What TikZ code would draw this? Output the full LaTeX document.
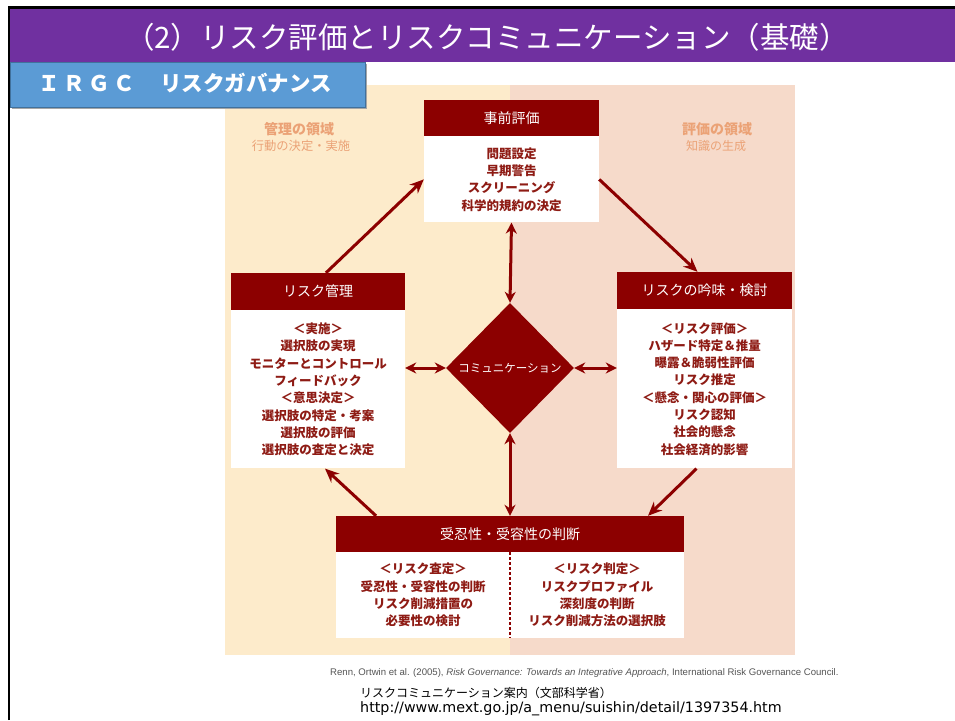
\documentclass[tikz,border=0pt]{standalone}
\usepackage{fontspec}
\setmainfont{Noto Sans CJK JP}
\newfontfamily\lib{Liberation Sans}
\newfontfamily\dvs{DejaVu Sans}
\usetikzlibrary{arrows.meta,shapes.geometric,calc}
\definecolor{ttlpurple}{HTML}{7030A0}
\definecolor{subblue}{HTML}{5B9BD5}
\definecolor{subborder}{HTML}{41719C}
\definecolor{darkred}{HTML}{8C0000}
\definecolor{bodyred}{HTML}{8E1B14}
\definecolor{beige}{HTML}{FDEBCB}
\definecolor{pinkbg}{HTML}{F6DACA}
\definecolor{lblorange}{HTML}{EBA276}
\definecolor{refgray}{HTML}{555555}
\tikzset{
  hdr/.style={fill=darkred, text=white, inner sep=0pt, font=\fontsize{14}{16}\selectfont},
  bodybox/.style={fill=white, inner sep=0pt, anchor=north},
  bodytxt/.style={text=bodyred, align=center, inner sep=0pt, font=\bfseries\fontsize{12.5}{17.3}\selectfont},
  arr/.style={draw=darkred, line width=3pt, -{Stealth[length=14pt,width=12pt]}},
  darr/.style={draw=darkred, line width=3pt, {Stealth[length=11pt,width=11pt]}-{Stealth[length=11pt,width=11pt]}},
  regionlbl/.style={text=lblorange, align=center, inner sep=0pt},
}
\begin{document}
\begin{tikzpicture}[x=1pt,y=-1pt]
\useasboundingbox (0,0) rectangle (955,720);
\fill[white] (0,0) rectangle (955,720);
% panels
\fill[beige] (225,85) rectangle (510,655);
\fill[pinkbg] (510,85) rectangle (795,655);
% frame
\draw[line width=2.5pt,black] (9,720) -- (9,7.5) -- (955,7.5);
% title band
\fill[ttlpurple] (10,9) rectangle (955,62);
\node[text=white, inner sep=0pt, font=\fontsize{29.5}{31}\selectfont] (title) at (487,37) {（2）リスク評価とリスクコミュニケーション（基礎）};
% subtitle box
\fill[black!35] (12,64) rectangle (367,109);
\draw[fill=subblue, draw=subborder, line width=0.8pt] (10,62) rectangle (365,107);
\node[text=white, inner sep=0pt, anchor=west, font=\bfseries\fontsize{21.5}{23}\selectfont] (sub) at (38,83) {Ｉ\,Ｒ\,Ｇ\,Ｃ\,　リスクガバナンス};
% region labels
\node[regionlbl, font=\bfseries\fontsize{14}{16}\selectfont] (ml) at (299,129) {管理の領域};
\node[regionlbl, font=\fontsize{12.3}{14}\selectfont] (ml2) at (301,146) {行動の決定・実施};
\node[regionlbl, font=\bfseries\fontsize{14}{16}\selectfont] (el) at (717,129) {評価の領域};
\node[regionlbl, font=\fontsize{12}{14}\selectfont] (el2) at (716,146) {知識の生成};
% top box
\node[hdr, minimum width=175pt, minimum height=36pt] (th) at (511.5,118) {事前評価};
\node[bodybox, minimum width=175pt, minimum height=86pt] (tb) at (th.south) {};
\node[bodytxt] (tt) at (tb.center) {問題設定\\早期警告\\スクリーニング\\科学的規約の決定};
% left box
\node[hdr, minimum width=174pt, minimum height=37pt] (lh) at (318,291.5) {リスク管理};
\node[bodybox, minimum width=174pt, minimum height=158pt] (lb) at (lh.south) {};
\node[bodytxt] (lt) at (lb.center) {＜実施＞\\選択肢の実現\\モニターとコントロール\\フィードバック\\＜意思決定＞\\選択肢の特定・考案\\選択肢の評価\\選択肢の査定と決定};
% right box
\node[hdr, minimum width=175pt, minimum height=37pt] (rh) at (704.5,290.5) {リスクの吟味・検討};
\node[bodybox, minimum width=175pt, minimum height=159pt] (rb) at (rh.south) {};
\node[bodytxt] (rt) at (rb.center) {＜リスク評価＞\\ハザード特定＆推量\\曝露＆脆弱性評価\\リスク推定\\＜懸念・関心の評価＞\\リスク認知\\社会的懸念\\社会経済的影響};
% bottom box
\node[hdr, minimum width=348pt, minimum height=36pt] (bh) at (510,534) {受忍性・受容性の判断};
\node[bodybox, minimum width=348pt, minimum height=86pt] (bb) at (bh.south) {};
\coordinate (dvt) at (510,552);
\coordinate (dvb) at (510,638);
\draw[darkred, line width=1.3pt, dash pattern=on 3pt off 2pt] (dvt) -- (dvb);
\node[bodytxt] (bl) at (423,595) {＜リスク査定＞\\受忍性・受容性の判断\\リスク削減措置の\\必要性の検討};
\node[bodytxt] (br) at (597,595) {＜リスク判定＞\\リスクプロファイル\\深刻度の判断\\リスク削減方法の選択肢};
% diamond
\node[diamond, fill=darkred, text=white, inner sep=0pt, minimum width=128pt, minimum height=130pt, font=\fontsize{11.5}{13}\selectfont] (d) at (510,368) {コミュニケーション};
% cycle arrows
\draw[arr] ([xshift=8pt]lh.north) -- (tb.west);
\draw[arr] (tb.east) -- ([xshift=-7pt]rh.north);
\draw[arr] ([xshift=-8pt]rb.south) -- ([xshift=138pt]bh.north);
\draw[arr] ([xshift=-134pt]bh.north) -- ([xshift=7pt]lb.south);
% communication arrows
\draw[darr] (tb.south) -- (d.north);
\draw[darr] (d.south) -- (bh.north);
\draw[darr] (d.west) -- (d.west -| lb.east);
\draw[darr] (d.east) -- (d.east -| rb.west);
% references
\node[text=refgray, anchor=west, inner sep=0pt, font=\lib\fontsize{9.6}{11}\selectfont] (ref) at (330,673) {Renn, Ortwin et al. (2005), \textit{Risk Governance: Towards an Integrative Approach}, International Risk Governance Council.};
\node[text=black, anchor=west, inner sep=0pt, font=\fontsize{12}{14}\selectfont] (src) at (360,693) {リスクコミュニケーション案内（文部科学省）};
\node[text=black, anchor=west, inner sep=0pt, font=\dvs\fontsize{14.3}{16}\selectfont] (url) at (360,709) {http://www.mext.go.jp/a\_menu/suishin/detail/1397354.htm};
\end{tikzpicture}
\end{document}
